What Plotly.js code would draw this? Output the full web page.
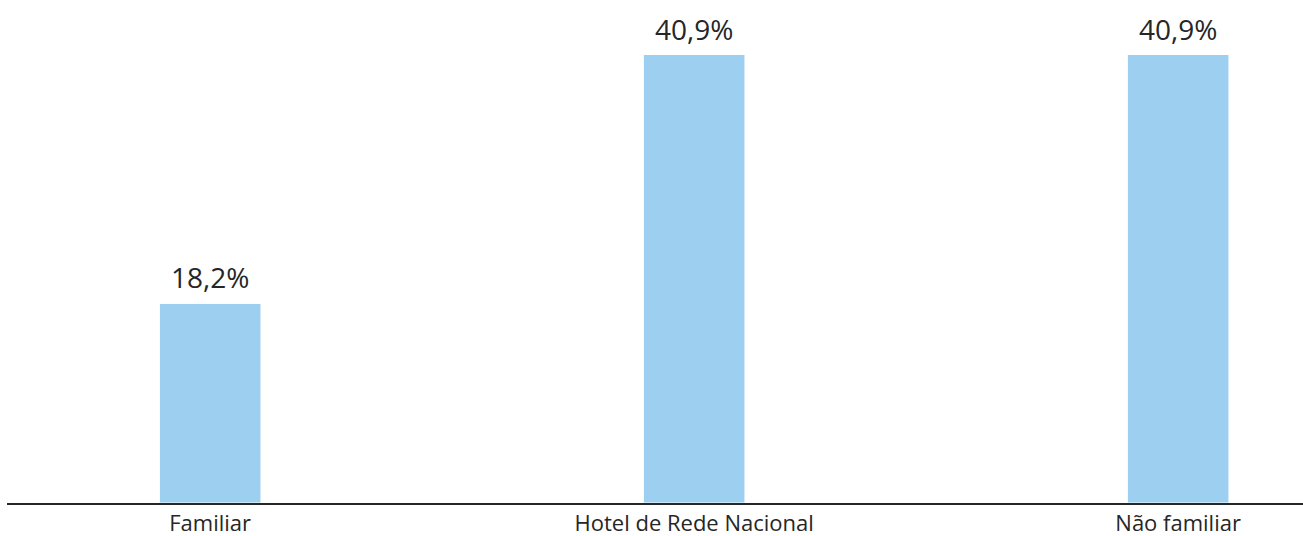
<!DOCTYPE html>
<html>
<head>
<meta charset="utf-8">
<script src="https://cdn.plot.ly/plotly-3.0.1.min.js"></script>
<style>html,body{margin:0;padding:0;background:#fff;}#chart{width:1303px;height:536px;}</style>
</head>
<body>
<div id="chart"></div>
<script>
const categories = ["Familiar", "Hotel de Rede Nacional", "Não familiar"];
const values = [18.2, 40.9, 40.9];
const labels = ["18,2%", "40,9%", "40,9%"];

const trace = {
  type: "bar",
  x: categories,
  y: values,
  width: 0.21,
  marker: {color: "#9dd0f0", line: {color: "#ffffff", width: 1}},
  hoverinfo: "skip"
};

const annotations = categories.map((c, i) => ({
  x: c, y: values[i], xref: "x", yref: "y",
  text: labels[i], showarrow: false,
  yanchor: "bottom", yshift: 5,
  font: {family: "Open Sans, sans-serif", size: 28, color: "#262626"}
}));

const layout = {
  width: 1303, height: 536,
  margin: {l: 7, r: 0, t: 0, b: 33},
  paper_bgcolor: "#ffffff", plot_bgcolor: "#ffffff",
  showlegend: false,
  xaxis: {
    type: "category",
    range: [-0.4198, 2.258],
    showline: true, linecolor: "#262626", linewidth: 2,
    ticks: "", showgrid: false, zeroline: false,
    ticklabelstandoff: 0,
    tickfont: {family: "Open Sans, sans-serif", size: 22, color: "#262626"}
  },
  yaxis: {
    range: [0, 45.87],
    visible: false, showgrid: false, zeroline: false
  },
  annotations: annotations
};

Plotly.newPlot("chart", [trace], layout, {displayModeBar: false, staticPlot: true});
</script>
</body>
</html>
